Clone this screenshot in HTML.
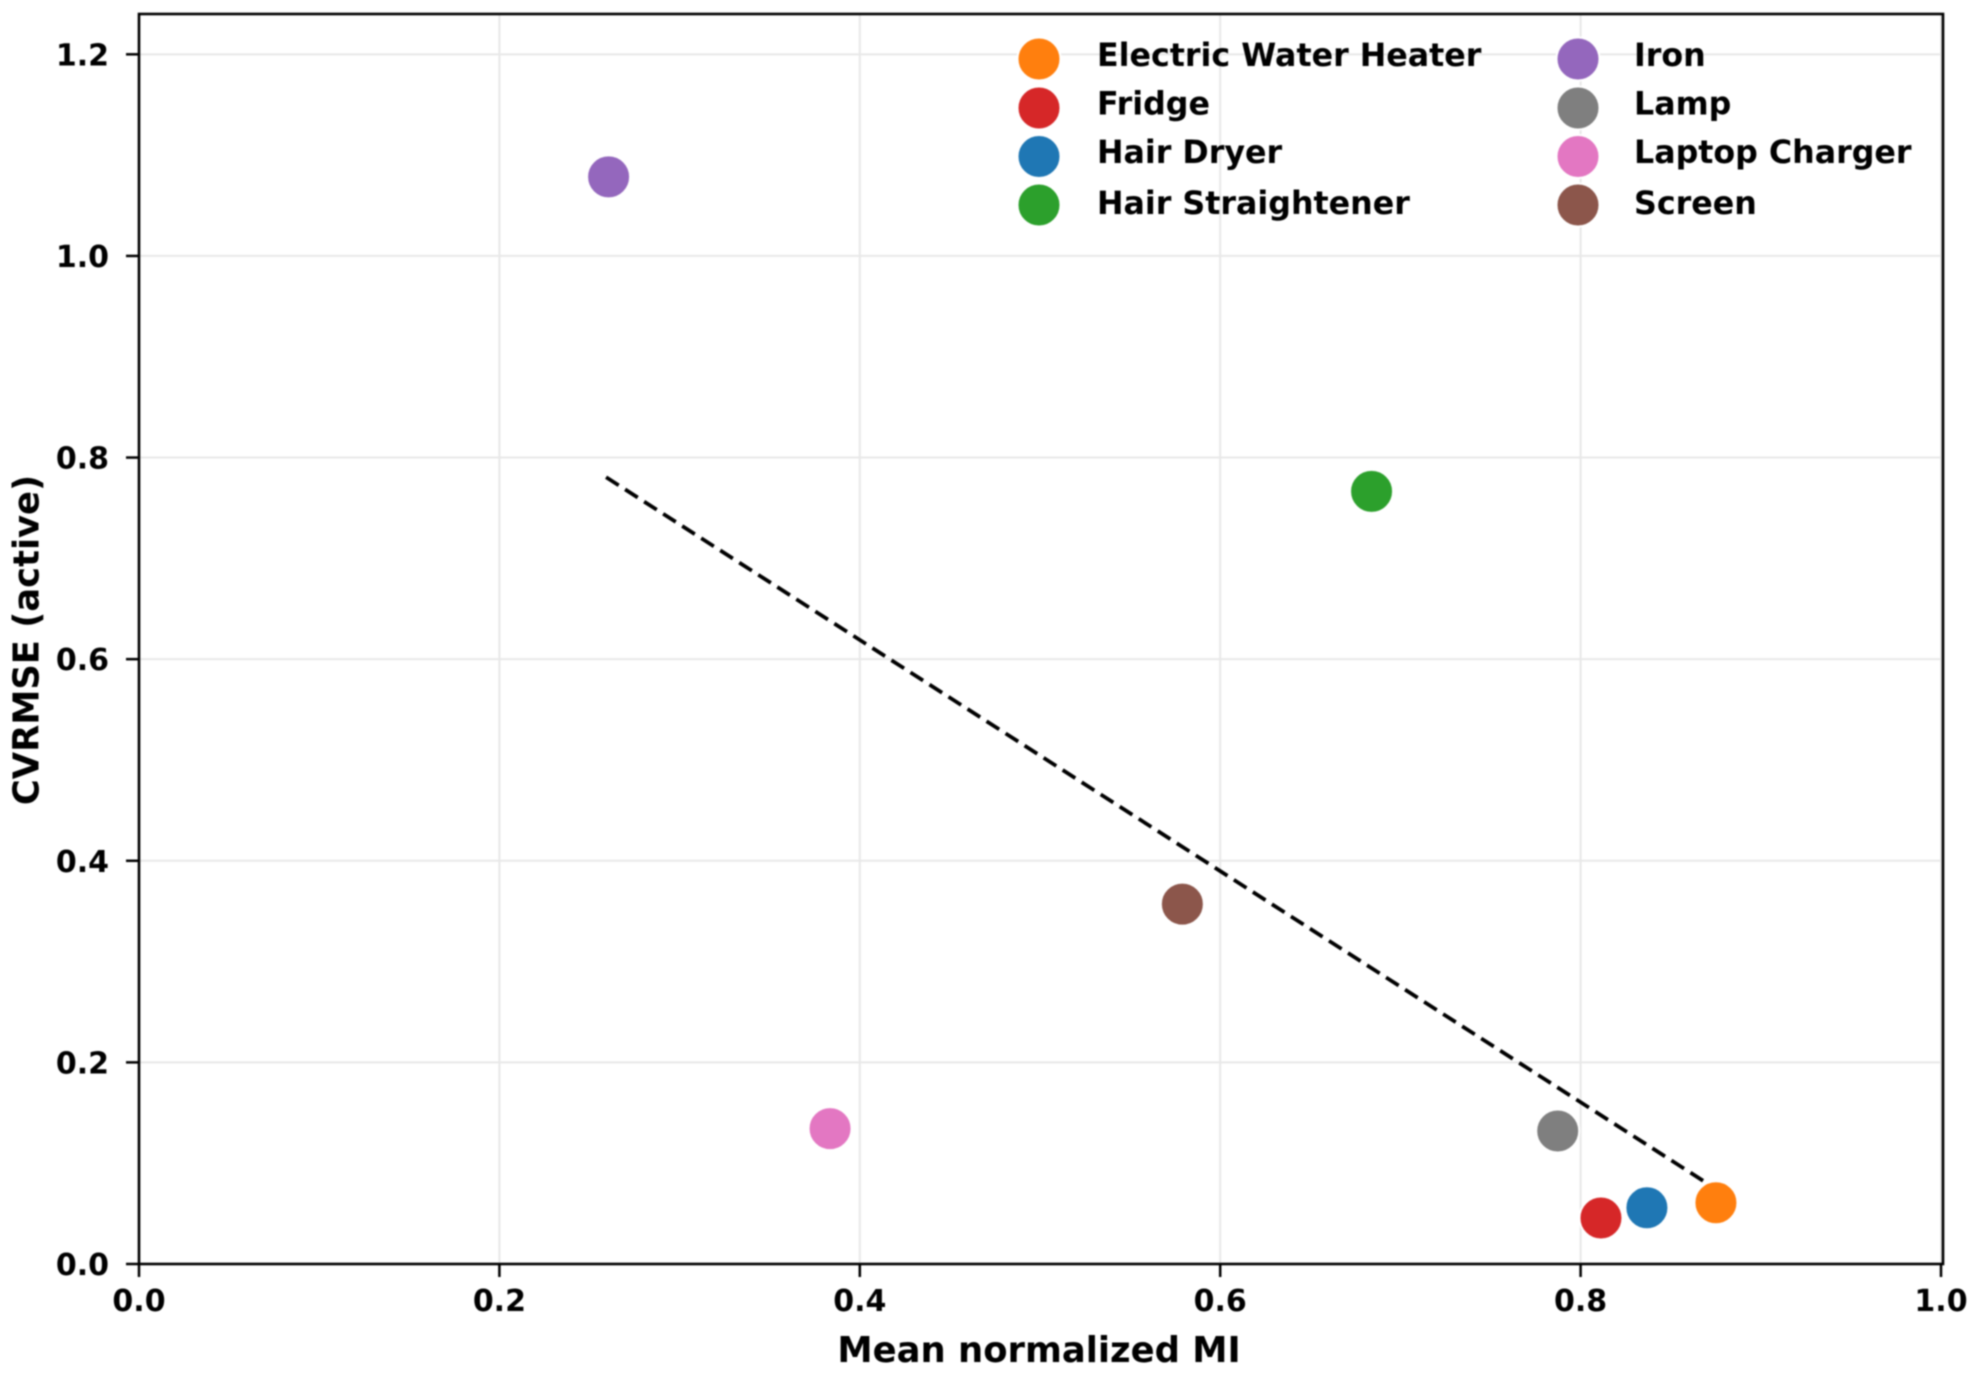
<!DOCTYPE html>
<html lang="en">
<head>
<meta charset="utf-8">
<title>CVRMSE vs Mean normalized MI</title>
<style>
html,body{margin:0;padding:0;background:#fff;width:1975px;height:1373px;overflow:hidden}
svg{display:block;filter:blur(0.8px)}
text{font-family:"DejaVu Sans","Liberation Sans",sans-serif;font-weight:700;fill:#000}
</style>
</head>
<body>
<svg id="chart" xmlns="http://www.w3.org/2000/svg" width="1975" height="1373" viewBox="0 0 1975 1373"></svg>
<script>
const categories = ["Electric Water Heater","Fridge","Hair Dryer","Hair Straightener","Iron","Lamp","Laptop Charger","Screen"];
const meanMI = [0.8751,0.8113,0.8368,0.684,0.2606,0.7873,0.3835,0.579];
const cvrmse = [0.0608,0.0456,0.0558,0.7664,1.0784,0.1319,0.1343,0.357];
const colors = ["#ff7f0e","#d62728","#1f77b4","#2ca02c","#9467bd","#7f7f7f","#e377c2","#8c564b"];
const xTicks = [0,0.2,0.4,0.6,0.8,1.0];
const yTicks = [0,0.2,0.4,0.6,0.8,1.0,1.2];
const trendX = [0.2592,0.8751];
const trendY = [0.7805,0.0744];
const xLimit = [0,1];
const yLimit = [0,1.24];

const NS = "http://www.w3.org/2000/svg";
const svg = document.getElementById("chart");
const plot = {left:139,right:1941,frameRight:1943,top:14,bottom:1264};
function sx(v){return plot.left+(v-xLimit[0])/(xLimit[1]-xLimit[0])*(plot.right-plot.left);}
function sy(v){return plot.bottom-(v-yLimit[0])/(yLimit[1]-yLimit[0])*(plot.bottom-plot.top);}
function mk(tag,attrs,text){
  const e=document.createElementNS(NS,tag);
  for(const k in attrs)e.setAttribute(k,attrs[k]);
  if(text!==undefined)e.textContent=text;
  return e;
}

/* gridlines */
xTicks.forEach(function(t){
  const g=mk("line",{x1:sx(t),x2:sx(t),y1:plot.top,y2:plot.bottom,stroke:"#e8e8e8","stroke-width":2});
  
  
  svg.appendChild(g);
});
yTicks.forEach(function(t){
  const g=mk("line",{x1:plot.left,x2:plot.frameRight,y1:sy(t),y2:sy(t),stroke:"#e8e8e8","stroke-width":2});
  
  
  svg.appendChild(g);
});

/* x ticks */
xTicks.forEach(function(t){
  const m=mk("line",{x1:sx(t),x2:sx(t),y1:plot.bottom,y2:plot.bottom+13,stroke:"#000","stroke-width":2.5});
  
  
  svg.appendChild(m);
  const l=mk("text",{x:sx(t),y:1311,"text-anchor":"middle","font-size":30},t.toFixed(1));
  
  
  svg.appendChild(l);
});

/* y ticks */
yTicks.forEach(function(t){
  const m=mk("line",{x1:plot.left-13,x2:plot.left,y1:sy(t),y2:sy(t),stroke:"#000","stroke-width":2.5});
  
  
  svg.appendChild(m);
  const l=mk("text",{x:109,y:sy(t)+11,"text-anchor":"end","font-size":30},t.toFixed(1));
  
  
  svg.appendChild(l);
});

/* trend line */
const trend=mk("line",{x1:sx(trendX[0]),y1:sy(trendY[0]),x2:sx(trendX[1]),y2:sy(trendY[1]),stroke:"#000","stroke-width":3.8,"stroke-dasharray":"15 7.6"});


svg.appendChild(trend);

/* points */
categories.forEach(function(c,i){
  const p=mk("circle",{cx:sx(meanMI[i]),cy:sy(cvrmse[i]),r:21.5,fill:colors[i],stroke:"#fff","stroke-width":2});
  
  
  svg.appendChild(p);
});

/* frame */
const frame=mk("rect",{x:plot.left,y:plot.top,width:plot.frameRight-plot.left,height:plot.bottom-plot.top,fill:"none",stroke:"#000","stroke-width":2.6});


svg.appendChild(frame);

/* legend */
const legendMarkerX=[1039,1578];
const legendTextX=[1097,1634];
const legendMarkerY=[59,108,156.5,205];
const legendTextY=[66,114.5,163,214];
categories.forEach(function(c,i){
  const col=Math.floor(i/4), row=i%4;
  const s=mk("circle",{cx:legendMarkerX[col],cy:legendMarkerY[row],r:21.5,fill:colors[i],stroke:"#fff","stroke-width":2});
  
  
  svg.appendChild(s);
  const t=mk("text",{x:legendTextX[col],y:legendTextY[row],"font-size":31.7},c);
  
  
  svg.appendChild(t);
});

/* axis titles */
const xt=mk("text",{x:1039,y:1362,"text-anchor":"middle","font-size":35.4},"Mean normalized MI");


svg.appendChild(xt);
const yt=mk("text",{x:0,y:0,"text-anchor":"middle","font-size":35.3,transform:"translate(38.5,640) rotate(-90)"},"CVRMSE (active)");


svg.appendChild(yt);
</script>
</body>
</html>
